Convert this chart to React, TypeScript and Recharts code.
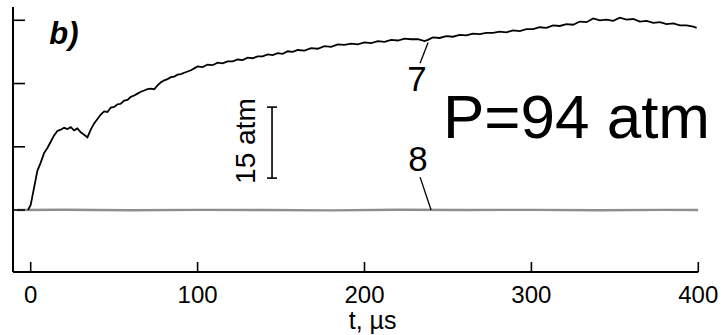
import { LineChart, Line, XAxis, YAxis, ReferenceLine, ReferenceDot } from 'recharts'

// curve 7 (black), pressure in units of one y-tick step
const t7 = [
    -1.6, 0, 2, 4, 6, 8, 10, 12, 14, 16, 18, 20, 22, 24, 26, 28, 30, 32, 34, 36, 38, 40, 42, 44, 46, 48, 50,
    52, 54, 56, 58, 60, 62, 64, 66, 68, 70, 72, 74, 76, 78, 80, 82, 84, 86, 88, 90, 92, 94, 96, 98, 100,
    103, 106, 109, 112, 115, 118, 121, 124, 127, 130, 133, 136, 139, 142, 145, 148, 151, 154, 157, 160,
    164, 168, 172, 176, 180, 184, 188, 192, 196, 200, 204, 208, 212, 216, 220, 224, 228, 232, 236, 238,
    241, 245, 249, 253, 257, 261, 265, 269, 273, 277, 281, 285, 289, 293, 297, 301, 305, 309, 313, 317,
    321, 325, 329, 333, 337, 341, 345, 349, 353, 357, 361, 365, 369, 373, 377, 381, 385, 389, 393, 397, 399,
]
const p7 = [
    0, 0.08, 0.35, 0.62, 0.75, 0.9, 0.98, 1.08, 1.18, 1.25, 1.27, 1.3, 1.28, 1.31, 1.26, 1.29, 1.23, 1.19,
    1.15, 1.27, 1.37, 1.44, 1.51, 1.56, 1.55, 1.62, 1.63, 1.67, 1.68, 1.73, 1.74, 1.79, 1.81, 1.84, 1.87,
    1.89, 1.91, 1.92, 1.91, 1.97, 2.02, 2.05, 2.07, 2.1, 2.11, 2.14, 2.15, 2.17, 2.19, 2.21, 2.24, 2.27,
    2.26, 2.3, 2.29, 2.33, 2.32, 2.35, 2.35, 2.38, 2.37, 2.41, 2.4, 2.43, 2.43, 2.46, 2.45, 2.48, 2.47,
    2.51, 2.5, 2.53, 2.52, 2.56, 2.55, 2.59, 2.58, 2.62, 2.61, 2.63, 2.62, 2.65, 2.64, 2.67, 2.66, 2.69,
    2.68, 2.71, 2.7, 2.7, 2.67, 2.69, 2.73, 2.72, 2.75, 2.74, 2.77, 2.76, 2.79, 2.78, 2.8, 2.8, 2.82,
    2.81, 2.84, 2.83, 2.86, 2.86, 2.89, 2.88, 2.92, 2.91, 2.94, 2.93, 2.98, 2.97, 3.03, 3.0, 3.01, 2.99,
    3.04, 3.01, 3.02, 2.98, 2.99, 2.96, 2.97, 2.94, 2.95, 2.92, 2.92, 2.9, 2.88,
]

// curve 8 (gray), stays at zero
const t8 = [-8.2, 20, 60, 100, 140, 180, 220, 260, 300, 340, 380, 400]
const p8 = [0, 0.005, -0.004, 0.003, 0, -0.005, 0.004, 0, 0.003, -0.003, 0.002, 0]

const xTicks = [0, 100, 200, 300, 400]
const yTicks = [0, 1, 2, 3]

const data7 = t7.map((t, i) => ({ t, p: p7[i] }))
const data8 = t8.map((t, i) => ({ t, p: p8[i] }))

const font = 'Liberation Sans, Arial, sans-serif'

const XTick = ({ x, y, payload }: any) => (
    <g>
        <line x1={x} y1={y} x2={x} y2={y - 10} stroke="#000" strokeWidth={1.6} />
        <text x={x} y={y + 31} textAnchor="middle" fontSize={24} fontFamily={font} fill="#000">
            {payload.value}
        </text>
    </g>
)

const YTick = ({ x, y }: any) => (
    <line x1={x} y1={y} x2={x + 12} y2={y} stroke="#000" strokeWidth={1.6} />
)

export default function App() {
    return (
        <div style={{ position: 'absolute', left: 0, top: 0, background: '#fff' }}>
            <LineChart
                width={724}
                height={335}
                margin={{ top: 7, right: 25.7, left: 0, bottom: 0 }}
                style={{ fontFamily: font }}
            >
                <XAxis
                    dataKey="t"
                    type="number"
                    domain={[-10.6, 400]}
                    ticks={xTicks}
                    allowDataOverflow
                    height={63}
                    tickSize={0}
                    tickMargin={0}
                    tick={<XTick />}
                    axisLine={{ stroke: '#000', strokeWidth: 2 }}
                    label={{ value: 't, µs', position: 'insideBottom', offset: 6, dx: 17, fontSize: 25, fill: '#000' }}
                />
                <YAxis
                    type="number"
                    domain={[-0.98, 3.21]}
                    ticks={yTicks}
                    allowDataOverflow
                    width={13}
                    tickSize={0}
                    tickMargin={0}
                    tick={<YTick />}
                    axisLine={{ stroke: '#000', strokeWidth: 2 }}
                />
                <Line data={data8} dataKey="p" stroke="#8e8e8e" strokeWidth={2.4} dot={false} isAnimationActive={false} />
                <Line data={data7} dataKey="p" stroke="#000" strokeWidth={1.8} dot={false} isAnimationActive={false} />

                {/* pointers */}
                <ReferenceLine segment={[{ x: 238.1, y: 2.65 }, { x: 233.3, y: 2.32 }]} stroke="#000" strokeWidth={1.3} ifOverflow="visible" />
                <ReferenceLine segment={[{ x: 233.3, y: 0.52 }, { x: 239.9, y: 0 }]} stroke="#000" strokeWidth={1.3} ifOverflow="visible" />

                {/* 15 atm scale bar */}
                <ReferenceLine segment={[{ x: 144.6, y: 1.627 }, { x: 144.6, y: 0.505 }]} stroke="#000" strokeWidth={1.6} ifOverflow="visible" />
                <ReferenceLine segment={[{ x: 141.6, y: 1.627 }, { x: 147.6, y: 1.627 }]} stroke="#000" strokeWidth={1.6} ifOverflow="visible" />
                <ReferenceLine segment={[{ x: 141.6, y: 0.505 }, { x: 147.6, y: 0.505 }]} stroke="#000" strokeWidth={1.6} ifOverflow="visible" />

                <ReferenceDot x={231.5} y={2.085} r={0} stroke="none" fill="none" ifOverflow="visible"
                    label={{ value: '7', position: 'center', fontSize: 35, fill: '#000' }} />
                <ReferenceDot x={232} y={0.82} r={0} stroke="none" fill="none" ifOverflow="visible"
                    label={{ value: '8', position: 'center', fontSize: 35, fill: '#000' }} />
                <ReferenceDot x={327} y={1.485} r={0} stroke="none" fill="none" ifOverflow="visible"
                    label={{ value: 'P=94 atm', position: 'center', fontSize: 62, fill: '#000' }} />
                <ReferenceDot x={128.4} y={1.09} r={0} stroke="none" fill="none" ifOverflow="visible"
                    label={{ value: '15 atm', position: 'center', angle: -90, fontSize: 28, fill: '#000' }} />
                <ReferenceDot x={19.9} y={2.8} r={0} stroke="none" fill="none" ifOverflow="visible"
                    label={{ value: 'b)', position: 'center', fontSize: 31, fontWeight: 'bold', fontStyle: 'italic', fill: '#000' }} />
            </LineChart>
        </div>
    )
}
